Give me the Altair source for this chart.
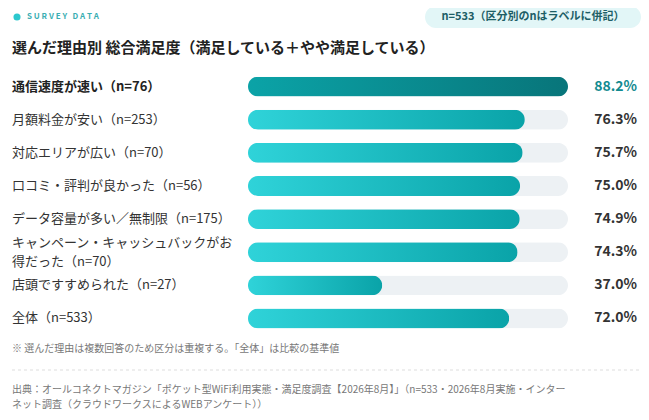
import pandas as pd
import altair as alt

FONT = "Noto Sans CJK JP"

# データ
labels = [
    "通信速度が速い（n=76）",
    "月額料金が安い（n=253）",
    "対応エリアが広い（n=70）",
    "口コミ・評判が良かった（n=56）",
    "データ容量が多い／無制限（n=175）",
    "キャンペーン・キャッシュバックがお\n得だった（n=70）",
    "店頭ですすめられた（n=27）",
    "全体（n=533）",
]
values = [88.2, 76.3, 75.7, 75.0, 74.9, 74.3, 37.0, 72.0]

df = pd.DataFrame({"label": labels, "value": values})
df["order"] = range(len(df))
df["top"] = df["order"] == 0
df["multi"] = df["label"].str.contains("\n")
df["txt"] = df["value"].map(lambda v: f"{v:.1f}%")
df["track"] = max(values)

W, H = 633, 404

y = alt.Y("label:N", sort=labels, axis=None,
          scale=alt.Scale(range=[62, 327], paddingInner=0.4, paddingOuter=0.2))
xs = alt.Scale(domain=[0, max(values)], range=[240, 560])

base = alt.Chart(df)

track = base.mark_bar(color="#edf1f4", cornerRadius=10).encode(
    x=alt.X("track:Q", scale=xs, axis=None), y=y)

grad_light = alt.Gradient(gradient="linear", x1=0, x2=1, y1=0, y2=0,
                          stops=[alt.GradientStop(color="#2fd3d9", offset=0),
                                 alt.GradientStop(color="#0aa3a8", offset=1)])
grad_dark = alt.Gradient(gradient="linear", x1=0, x2=1, y1=0, y2=0,
                         stops=[alt.GradientStop(color="#0ba3a7", offset=0),
                                alt.GradientStop(color="#08757a", offset=1)])

bars = base.transform_filter("!datum.top").mark_bar(
    color=grad_light, cornerRadius=10).encode(
    x=alt.X("value:Q", scale=xs, axis=None), y=y)
bar_top = base.transform_filter("datum.top").mark_bar(
    color=grad_dark, cornerRadius=10).encode(
    x=alt.X("value:Q", scale=xs, axis=None), y=y)

lab = base.transform_filter("!datum.top && !datum.multi").mark_text(
    align="left", baseline="middle", font=FONT, fontSize=13, color="#333").encode(
    x=alt.value(4), y=y, text="label:N")
lab_multi = base.transform_filter("datum.multi").mark_text(
    align="left", baseline="middle", font=FONT, fontSize=13, color="#333",
    lineBreak="\n", lineHeight=19, dy=-9).encode(
    x=alt.value(4), y=y, text="label:N")
lab_top = base.transform_filter("datum.top").mark_text(
    align="left", baseline="middle", font=FONT, fontSize=13, color="#222",
    fontWeight="bold").encode(x=alt.value(4), y=y, text="label:N")

val = base.transform_filter("!datum.top").mark_text(
    align="right", baseline="middle", font=FONT, fontSize=14, color="#333",
    fontWeight="bold").encode(x=alt.value(629), y=y, text="txt:N")
val_top = base.transform_filter("datum.top").mark_text(
    align="right", baseline="middle", font=FONT, fontSize=14, color="#128a90",
    fontWeight="bold").encode(x=alt.value(629), y=y, text="txt:N")

one = alt.Chart(pd.DataFrame({"a": [0]}))

def note(text, x, yy, size=10, color="#777", weight="normal", align="left"):
    return one.mark_text(text=text, align=align, baseline="middle", font=FONT,
                         fontSize=size, color=color, fontWeight=weight).encode(
        x=alt.value(x), y=alt.value(yy))

dot = one.mark_circle(color="#2cc8ce", size=50, opacity=1).encode(
    x=alt.value(9), y=alt.value(9))
pill = one.mark_rect(color="#e2f6f7", cornerRadius=11).encode(
    x=alt.value(417), x2=alt.value(633), y=alt.value(-2), y2=alt.value(20))
rule = one.mark_rule(color="#dddddd", strokeDash=[3, 3]).encode(
    x=alt.value(4), x2=alt.value(632), y=alt.value(362))

nb = "\u00a0"
survey = nb.join("SURVEY") + nb * 3 + nb.join("DATA")

chart = alt.layer(
    track, bars, bar_top, lab, lab_multi, lab_top, val, val_top,
    dot,
    note(survey, 19, 9, size=8, color="#3aaeb3", weight="bold"),
    pill,
    note("n=533（区分別のnはラベルに併記）", 525, 9, size=11, color="#1d5e66",
         weight="bold", align="center"),
    note("選んだ理由別 総合満足度（満足している＋やや満足している）", 4, 40,
         size=15, color="#222", weight="bold"),
    note("※ 選んだ理由は複数回答のため区分は重複する。「全体」は比較の基準値", 4, 341),
    rule,
    note("出典：オールコネクトマガジン「ポケット型WiFi利用実態・満足度調査【2026年8月】」（n=533・2026年8月実施・インター", 4, 382),
    note("ネット調査（クラウドワークスによるWEBアンケート））", 4, 397),
).properties(
    width=W, height=H, padding=0, autosize="none", background="white"
).configure_view(stroke=None)

chart.save("out.html", embed_options={"renderer": "svg", "actions": False})
